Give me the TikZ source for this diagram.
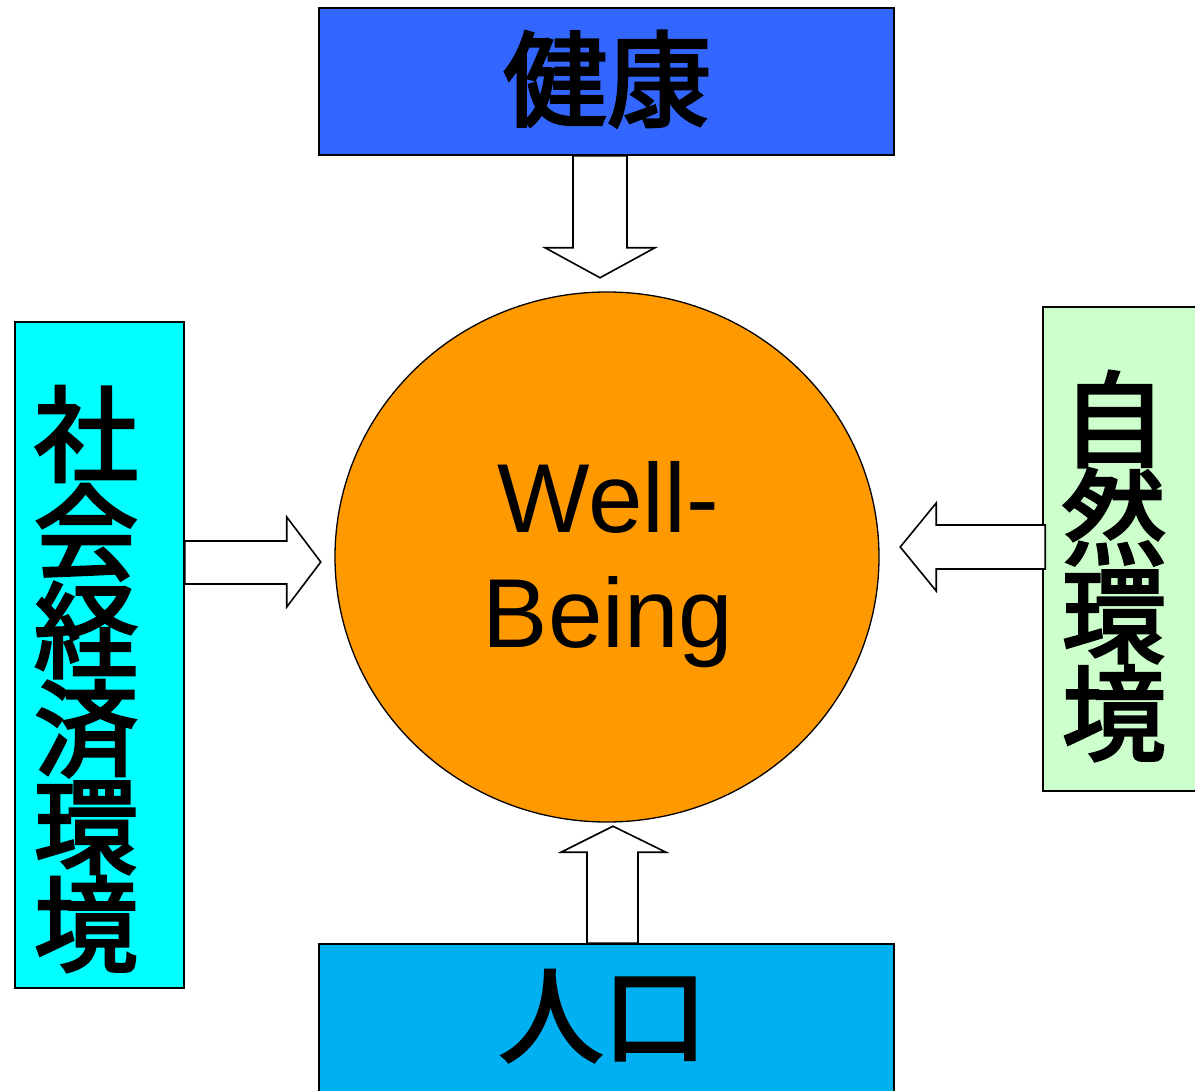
\documentclass[tikz,border=0pt]{standalone}
\usepackage{fontspec}
\newfontfamily\cjk{Noto Sans CJK JP}[FakeBold=3]
\newfontfamily\wbfont{Liberation Sans}
\usetikzlibrary{positioning,shapes.geometric}
\definecolor{kenkoblue}{HTML}{3366FF}
\definecolor{shakaicyan}{HTML}{00FFFF}
\definecolor{shizengreen}{HTML}{CCFFCC}
\definecolor{jinkoblue}{HTML}{00B0F0}
\definecolor{wborange}{HTML}{FF9900}
\tikzset{
  box/.style={draw=black, line width=1.5pt},
  blockarrow/.style={draw=black, fill=white, line width=1.6pt, line join=miter},
  bigcjk/.style={font=\cjk\fontsize{104}{98}\selectfont, align=center},
}

\begin{document}
\begin{tikzpicture}[x=1pt,y=-1pt]
        \tikzstyle{every node}+=[inner sep=0pt]
        \useasboundingbox (0,0) rectangle (1195,1091);
        % boxes
        \node [box, fill=kenkoblue, minimum width=575, minimum height=147] (health) at (606.5,81.5) {};
        \node [box, fill=shakaicyan, minimum width=169, minimum height=666] (socio) at (99.5,655) {};
        \node [box, fill=shizengreen, minimum width=162, minimum height=484] (nature) at (1124,549) {};
        \node [box, fill=jinkoblue, minimum width=575, minimum height=156] (population) at (606.5,1022) {};
        \node [ellipse, draw=black, line width=1.3pt, fill=wborange, minimum width=544, minimum height=530] (wb) at (607,557) {};
        % block arrows
        \draw [blockarrow] (health.south -| 573,0) -- ++(0,92) -- ++(-28,0) -- ++(55,30) -- ++(55,-30) -- ++(-28,0) -- ++(0,-92) -- cycle;
        \draw [blockarrow] (socio.east |- 0,541) -- ++(102,0) -- ++(0,-24) -- ++(34,45) -- ++(-34,45) -- ++(0,-23) -- ++(-102,0) -- cycle;
        \draw [blockarrow] (nature.west |- 0,525) ++(3,0) -- ++(-109,0) -- ++(0,-22) -- ++(-36,44) -- ++(36,44) -- ++(0,-22) -- ++(109,0) -- cycle;
        \draw [blockarrow] (population.north -| 587,0) -- ++(0,-91) -- ++(-26,0) -- ++(52,-26) -- ++(53,26) -- ++(-28,0) -- ++(0,91) -- cycle;
        % labels
        \node [bigcjk] (healthtext) at (607,79) {健康};
        \node [bigcjk] (sociotext) at (86,679) {社\\会\\経\\済\\環\\境};
        \node [bigcjk] (naturetext) at (1114,566) {自\\然\\環\\境};
        \node [bigcjk] (populationtext) at (603,1016) {人口};
        \node [font=\wbfont\fontsize{98}{115}\selectfont, align=center] (wbtext) at (608,565) {Well-\\Being};
\end{tikzpicture}
\end{document}
